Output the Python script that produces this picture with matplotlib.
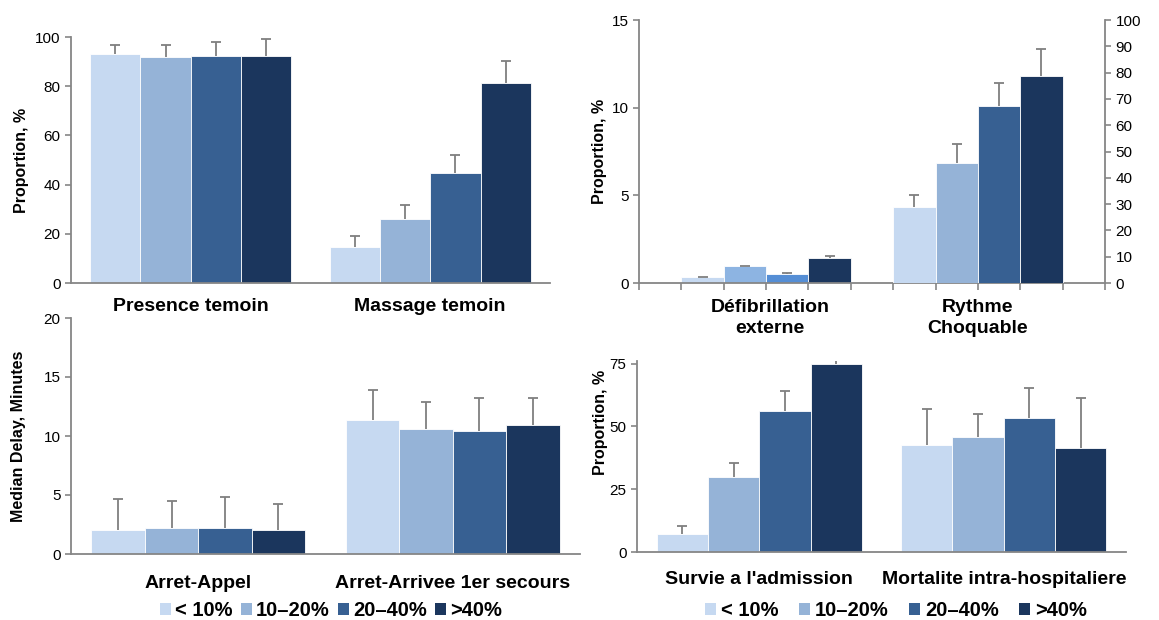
import numpy as np
import matplotlib.pyplot as plt
from matplotlib.patches import Patch

plt.rcParams['font.family'] = ['Liberation Sans', 'DejaVu Sans']

# groupes (proportion)
groups = ['< 10%', '10–20%', '20–40%', '>40%']
colors = ['#C6D9F1', '#95B3D7', '#376092', '#1B365D']
defib_colors = ['#C6D9F1', '#8DB4E2', '#558ED5', '#1B365D']

# haut gauche : témoin (une ligne par groupe, une colonne par catégorie)
temoin_cats = ['Presence temoin', 'Massage temoin']
temoin_val = [[93.0, 14.8], [91.7, 26.1], [92.4, 44.9], [92.4, 81.2]]
temoin_err = [[96.6, 19.2], [96.6, 31.7], [98.0, 52.0], [99.3, 90.3]]

# haut droite : défibrillation (axe gauche) et rythme choquable (axe droit)
defib_val = [0.34, 0.95, 0.51, 1.42]
defib_err = [0.37, 0.98, 0.55, 1.52]
rythme_val = [29.0, 45.6, 67.4, 78.6]
rythme_err = [33.5, 52.9, 76.2, 89.1]
choc_cats = ['Défibrillation\nexterne', 'Rythme\nChoquable']

# bas gauche : délais
delay_cats = ['Arret-Appel', 'Arret-Arrivee 1er secours']
delay_val = [[2.04, 11.32], [2.18, 10.58], [2.18, 10.44], [2.04, 10.9]]
delay_err = [[4.64, 13.9], [4.5, 12.9], [4.8, 13.2], [4.2, 13.2]]

# bas droite : survie / mortalité
surv_cats = ["Survie a l'admission", 'Mortalite intra-hospitaliere']
surv_val = [[7.35, 42.7], [29.7, 45.7], [56.1, 53.4], [75.0, 41.5]]
surv_err = [[10.2, 57.0], [35.3, 54.9], [64.0, 65.3], [78.0, 61.1]]

grey = '#868686'
err_c = '#7F7F7F'
W, H = 1159, 620
TICK_FS = 11
LAB_FS = 11.5
CAT_FS = 14


def box(x0, x1, ytop, ybot):
    # pixels -> fractions de figure
    return [x0 / W, 1 - ybot / H, (x1 - x0) / W, (ybot - ytop) / H]


def style(ax):
    for s in ['top', 'right']:
        ax.spines[s].set_visible(False)
    for s in ['left', 'bottom']:
        ax.spines[s].set_color(grey)
        ax.spines[s].set_linewidth(1.3)
    ax.tick_params(axis='y', colors=grey, labelcolor='black', labelsize=TICK_FS,
                   length=4, width=1.2, direction='out')
    ax.tick_params(axis='x', colors=grey, labelcolor='black', length=0)


def up_err(ax, x, v, e):
    x = np.asarray(x)
    ax.vlines(x, v, e, color=err_c, lw=1.3, zorder=3)
    ax.plot(x, e, ls='none', marker='_', ms=7.5, mew=1.3, color=err_c, zorder=3)


def grouped(ax, cats, vals, errs):
    x = np.arange(len(cats))
    w = 0.84 / 4
    for i in range(4):
        xi = x + (i - 1.5) * w
        ax.bar(xi, vals[i], w, color=colors[i], edgecolor='white', linewidth=0.6, zorder=2)
        up_err(ax, xi, vals[i], errs[i])
    ax.set_xlim(-0.5, len(cats) - 0.5)
    ax.set_xticks(x, cats, fontsize=CAT_FS, fontweight='bold')


fig = plt.figure(figsize=(11.59, 6.2), dpi=100)

# --- haut gauche
ax1 = fig.add_axes(box(71, 550, 37, 283))
grouped(ax1, temoin_cats, temoin_val, temoin_err)
ax1.set_ylim(0, 100)
ax1.set_yticks(np.arange(0, 101, 20))
style(ax1)
ax1.tick_params(axis='x', pad=11)
ax1.set_ylabel('Proportion, %', fontsize=LAB_FS, fontweight='bold')
ax1.yaxis.set_label_coords(-0.088, 0.5)

# --- haut droite
ax2 = fig.add_axes(box(639, 1105, 20, 283))
pos1 = np.arange(4) + 1.5
pos2 = np.arange(4) + 6.5
ax2.bar(pos1, defib_val, 1.0, color=defib_colors, edgecolor='white', linewidth=0.6, zorder=2)
up_err(ax2, pos1, defib_val, defib_err)
ax2.set_ylim(0, 15)
ax2.set_yticks([0, 5, 10, 15])
ax2.set_xlim(0, 11)
style(ax2)
ax2.set_xticks(np.arange(12))
ax2.set_xticklabels([])
ax2.tick_params(axis='x', which='major', length=5, width=1.2, colors=grey)
for xc, lab in zip([pos1.mean() + 0.1, pos2.mean()], choc_cats):
    ax2.text(xc, -0.06, lab, transform=ax2.get_xaxis_transform(), ha='center', va='top',
             fontsize=CAT_FS, fontweight='bold', linespacing=1.35)
ax2.set_ylabel('Proportion, %', fontsize=LAB_FS, fontweight='bold')
ax2.yaxis.set_label_coords(-0.068, 0.5)

ax2r = ax2.twinx()
ax2r.bar(pos2, rythme_val, 1.0, color=colors, edgecolor='white', linewidth=0.6, zorder=2)
up_err(ax2r, pos2, rythme_val, rythme_err)
ax2r.set_ylim(0, 100)
ax2r.set_yticks(np.arange(0, 101, 10))
for s in ['top', 'left', 'bottom']:
    ax2r.spines[s].set_visible(False)
ax2r.spines['right'].set_color(grey)
ax2r.spines['right'].set_linewidth(1.3)
ax2r.tick_params(axis='y', colors=grey, labelcolor='black', labelsize=TICK_FS,
                 length=4, width=1.2)

# --- bas gauche
ax3 = fig.add_axes(box(71, 580, 318, 554))
grouped(ax3, delay_cats, delay_val, delay_err)
ax3.set_ylim(0, 20)
ax3.set_yticks(np.arange(0, 21, 5))
style(ax3)
ax3.tick_params(axis='x', pad=15)
ax3.set_ylabel('Median Delay, Minutes', fontsize=LAB_FS, fontweight='bold')
ax3.yaxis.set_label_coords(-0.088, 0.5)

# --- bas droite
ax4 = fig.add_axes(box(637, 1126, 361, 552))
grouped(ax4, surv_cats, surv_val, surv_err)
ax4.set_ylim(0, 76)
ax4.set_yticks([0, 25, 50, 75])
style(ax4)
ax4.tick_params(axis='x', pad=14)
ax4.set_ylabel('Proportion, %', fontsize=LAB_FS, fontweight='bold')
ax4.yaxis.set_label_coords(-0.059, 0.68)

# légendes
handles = [Patch(facecolor=c, edgecolor='none') for c in colors]
fig.legend(handles, groups, loc='center', bbox_to_anchor=(331 / W, 1 - 611 / H),
           ncol=4, frameon=False, prop={'weight': 'bold', 'size': 14.5},
           handlelength=0.55, handleheight=0.55, handletextpad=0.2,
           columnspacing=0.4, borderpad=0)
fig.legend(handles, groups, loc='center', bbox_to_anchor=(896 / W, 1 - 611 / H),
           ncol=4, frameon=False, prop={'weight': 'bold', 'size': 14.5},
           handlelength=0.55, handleheight=0.55, handletextpad=0.25,
           columnspacing=1.0, borderpad=0)

fig.savefig('out.png', dpi=100)
